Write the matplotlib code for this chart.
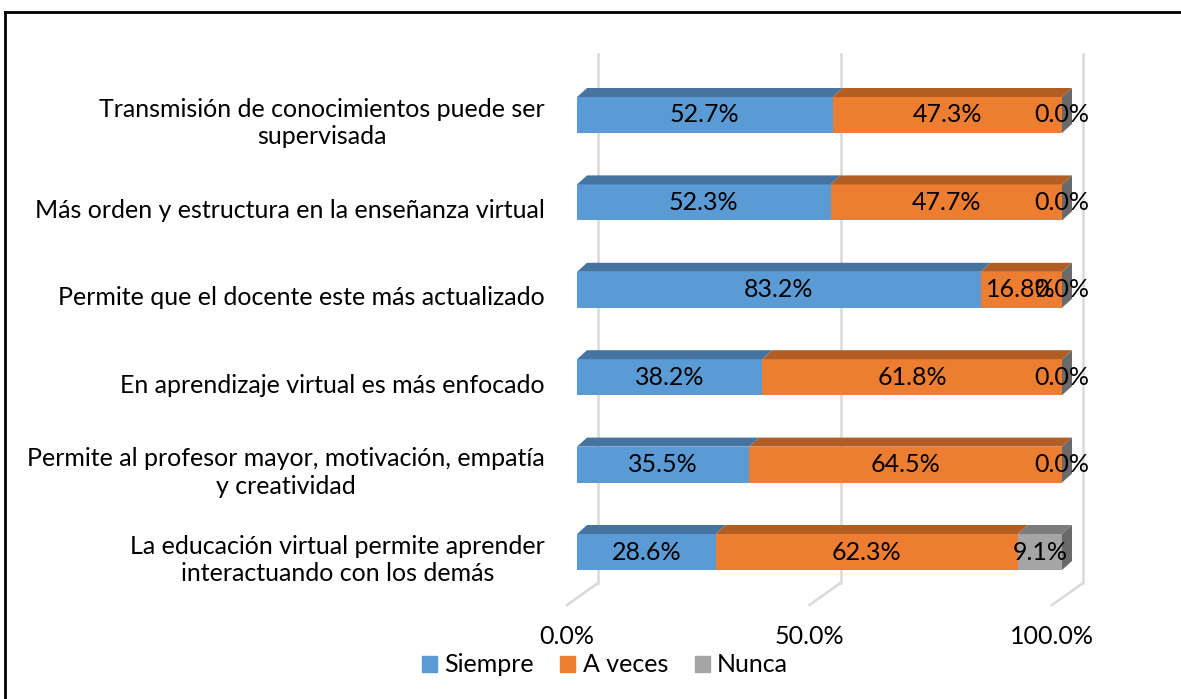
import numpy as np
import matplotlib
matplotlib.use('Agg')
import matplotlib.pyplot as plt
from matplotlib.patches import Polygon, Patch
from matplotlib.lines import Line2D
import matplotlib.transforms as mtransforms

# data (bottom to top)
categories = [
    'La educación virtual permite aprender\ninteractuando con los demás',
    'Permite al profesor mayor, motivación, empatía\ny creatividad',
    'En aprendizaje virtual es más enfocado',
    'Permite que el docente este más actualizado',
    'Más orden y estructura en la enseñanza virtual',
    'Transmisión de conocimientos puede ser\nsupervisada',
]
siempre = [28.6, 35.5, 38.2, 83.2, 52.3, 52.7]
a_veces = [62.3, 64.5, 61.8, 16.8, 47.7, 47.3]
nunca = [9.1, 0.0, 0.0, 0.0, 0.0, 0.0]
series_names = ['Siempre', 'A veces', 'Nunca']
xticks = [0, 50, 100]

front_cols = ['#5B9BD5', '#ED7D31', '#A5A5A5']
top_cols = ['#4574A0', '#B25D24', '#7C7C7C']
side_col = '#6A6A6A'
grid_col = '#D9D9D9'

plt.rcParams['font.family'] = ['Lato', 'DejaVu Sans']
FS = 18

W, H = 1181, 699
fig = plt.figure(figsize=(W / 100, H / 100), dpi=100)

# pixel geometry of the plot area
x0_px, x1_px = 577, 1062
ppx = (x1_px - x0_px) / 100.0
ppy = 87.4
y_bottom_img = 595.7
ax = fig.add_axes([x0_px / W, (H - y_bottom_img) / H, (x1_px - x0_px) / W, 6 * ppy / H])
ax.set_xlim(0, 100)
ax.set_ylim(-0.5, 5.5)
ax.axis('off')

def img_to_y(img):
    return (y_bottom_img - img) / ppy - 0.5

bh = 36 / ppy
DX, DY = 10 / ppx, 9 / ppy
GX = 21 / ppx

# back wall grid lines + floor
for xv in xticks:
    ax.add_line(Line2D([xv + GX, xv + GX], [img_to_y(54), img_to_y(583)], color=grid_col, lw=1.8, clip_on=False, zorder=0))
    ax.add_line(Line2D([xv + GX, xv - 10 / ppx], [img_to_y(583), img_to_y(605)], color=grid_col, lw=1.8, clip_on=False, zorder=0))

ypos = np.arange(len(categories))
data = [siempre, a_veces, nunca]
left = np.zeros(len(categories))
for s, vals in enumerate(data):
    vals = np.array(vals)
    ax.barh(ypos, vals, left=left, height=bh, color=front_cols[s], zorder=2, clip_on=False)
    for i in range(len(categories)):
        l, r = left[i], left[i] + vals[i]
        yt = ypos[i] + bh / 2
        if vals[i] > 0:
            ax.add_patch(Polygon([(l, yt), (r, yt), (r + DX, yt + DY), (l + DX, yt + DY)],
                                 closed=True, color=top_cols[s], lw=0, zorder=2, clip_on=False))
        ax.text((l + r) / 2, ypos[i], '{:.1f}%'.format(vals[i]), ha='center', va='center',
                fontsize=FS, zorder=5, clip_on=False)
    left = left + vals

for i in range(len(categories)):
    yb, yt = ypos[i] - bh / 2, ypos[i] + bh / 2
    ax.add_patch(Polygon([(100, yb), (100 + DX, yb + DY), (100 + DX, yt + DY), (100, yt)],
                         closed=True, color=side_col, lw=0, zorder=3, clip_on=False))

# category labels
lab_tr = ax.transData + mtransforms.ScaledTranslation(-32 / 100, -8 / 100, fig.dpi_scale_trans)
for i, c in enumerate(categories):
    ax.text(0, ypos[i], c, ha='right', va='center', multialignment='center',
            fontsize=FS, transform=lab_tr, linespacing=1.25)

# x tick labels
tick_tr = ax.transData + mtransforms.ScaledTranslation(-10 / 100, 0, fig.dpi_scale_trans)
for xv in xticks:
    ax.text(xv, img_to_y(636), '{:.1f}%'.format(xv), ha='center', va='center',
            fontsize=FS, transform=tick_tr, clip_on=False)

handles = [Patch(color=c) for c in front_cols]
fig.legend(handles, series_names, loc='center', bbox_to_anchor=(605 / W, (H - 665) / H),
           ncol=3, frameon=False, fontsize=FS, handlelength=0.6, handleheight=0.6,
           handletextpad=0.3, columnspacing=1.05, borderpad=0)

# outer frame
fig.add_artist(Line2D([5 / W, 5 / W], [0, (H - 12) / H], color='black', lw=2))
fig.add_artist(Line2D([5 / W, 1], [(H - 12) / H, (H - 12) / H], color='black', lw=2))

fig.savefig('out.png', dpi=100, facecolor='white')
